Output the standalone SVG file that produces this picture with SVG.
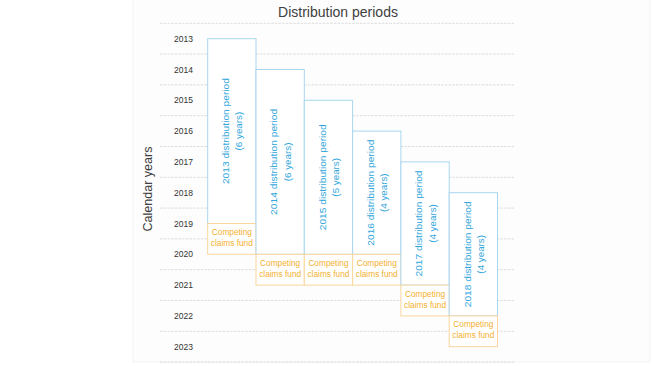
<svg xmlns="http://www.w3.org/2000/svg" width="652" height="366" viewBox="0 0 652 366">
<style>
.bg{fill:#fdfdfd;stroke:#f3f3f3;stroke-width:1}
.grid line{stroke:#d4d4d4;stroke-width:0.8;stroke-dasharray:2.5 1.2}
.title{font-family:"Liberation Sans",Arial,sans-serif;font-size:14px;fill:#404040;text-anchor:middle}
.axis{font-family:"Liberation Sans",Arial,sans-serif;font-size:13.5px;fill:#404040;text-anchor:middle}
.yr{font-family:"Liberation Sans",Arial,sans-serif;font-size:8.5px;fill:#333;text-anchor:middle}
.pb{fill:#fff;stroke:#a9d6ee;stroke-width:1}
.pt{font-family:"Liberation Sans",Arial,sans-serif;font-size:9.8px;fill:#33a7dc;text-anchor:middle}
.cb{fill:#fff;stroke:#fbd59c;stroke-width:1}
.ct{font-family:"Liberation Sans",Arial,sans-serif;font-size:8.3px;fill:#f4b030;text-anchor:middle}
</style>
<rect class="bg" x="133" y="-1" width="517" height="363"/>
<text class="title" x="338" y="17">Distribution periods</text>
<text class="axis" transform="translate(152,189) rotate(-90)" textLength="85" lengthAdjust="spacingAndGlyphs">Calendar years</text>
<g id="grid" class="grid">
<line x1="160" y1="23.3" x2="515" y2="23.3"/>
<line x1="160" y1="54.1" x2="515" y2="54.1"/>
<line x1="160" y1="84.9" x2="515" y2="84.9"/>
<line x1="160" y1="115.7" x2="515" y2="115.7"/>
<line x1="160" y1="146.5" x2="515" y2="146.5"/>
<line x1="160" y1="177.3" x2="515" y2="177.3"/>
<line x1="160" y1="208.1" x2="515" y2="208.1"/>
<line x1="160" y1="238.9" x2="515" y2="238.9"/>
<line x1="160" y1="269.7" x2="515" y2="269.7"/>
<line x1="160" y1="300.5" x2="515" y2="300.5"/>
<line x1="160" y1="331.3" x2="515" y2="331.3"/>
<line x1="160" y1="362.1" x2="515" y2="362.1"/>
</g>
<g id="years">
<text class="yr" x="183.5" y="41.7">2013</text>
<text class="yr" x="183.5" y="72.5">2014</text>
<text class="yr" x="183.5" y="103.3">2015</text>
<text class="yr" x="183.5" y="134.1">2016</text>
<text class="yr" x="183.5" y="164.9">2017</text>
<text class="yr" x="183.5" y="195.7">2018</text>
<text class="yr" x="183.5" y="226.5">2019</text>
<text class="yr" x="183.5" y="257.3">2020</text>
<text class="yr" x="183.5" y="288.1">2021</text>
<text class="yr" x="183.5" y="318.9">2022</text>
<text class="yr" x="183.5" y="349.7">2023</text>
</g>
<g id="p2013">
<rect class="pb" x="207.7" y="38.7" width="48.3" height="184.8"/>
<text class="pt" transform="translate(229,131.1) rotate(-90)" textLength="106" lengthAdjust="spacingAndGlyphs">2013 distribution period</text>
<text class="pt" transform="translate(242.3,131.1) rotate(-90)">(6 years)</text>
</g>
<g id="c2013">
<rect class="cb" x="207.7" y="223.5" width="48.3" height="30.8"/>
<text class="ct" x="231.85" y="235">Competing</text>
<text class="ct" x="231.85" y="246">claims fund</text>
</g>
<g id="p2014">
<rect class="pb" x="256" y="69.5" width="48.3" height="184.8"/>
<text class="pt" transform="translate(277.3,161.9) rotate(-90)" textLength="106" lengthAdjust="spacingAndGlyphs">2014 distribution period</text>
<text class="pt" transform="translate(290.6,161.9) rotate(-90)">(6 years)</text>
</g>
<g id="c2014">
<rect class="cb" x="256" y="254.3" width="48.3" height="30.8"/>
<text class="ct" x="280.15" y="265.8">Competing</text>
<text class="ct" x="280.15" y="276.8">claims fund</text>
</g>
<g id="p2015">
<rect class="pb" x="304.3" y="100.3" width="48.3" height="154"/>
<text class="pt" transform="translate(325.6,177.3) rotate(-90)" textLength="106" lengthAdjust="spacingAndGlyphs">2015 distribution period</text>
<text class="pt" transform="translate(338.9,177.3) rotate(-90)">(5 years)</text>
</g>
<g id="c2015">
<rect class="cb" x="304.3" y="254.3" width="48.3" height="30.8"/>
<text class="ct" x="328.45" y="265.8">Competing</text>
<text class="ct" x="328.45" y="276.8">claims fund</text>
</g>
<g id="p2016">
<rect class="pb" x="352.6" y="131.1" width="48.3" height="123.2"/>
<text class="pt" transform="translate(373.9,192.7) rotate(-90)" textLength="106" lengthAdjust="spacingAndGlyphs">2016 distribution period</text>
<text class="pt" transform="translate(387.2,192.7) rotate(-90)">(4 years)</text>
</g>
<g id="c2016">
<rect class="cb" x="352.6" y="254.3" width="48.3" height="30.8"/>
<text class="ct" x="376.75" y="265.8">Competing</text>
<text class="ct" x="376.75" y="276.8">claims fund</text>
</g>
<g id="p2017">
<rect class="pb" x="400.9" y="161.9" width="48.3" height="123.2"/>
<text class="pt" transform="translate(422.2,223.5) rotate(-90)" textLength="106" lengthAdjust="spacingAndGlyphs">2017 distribution period</text>
<text class="pt" transform="translate(435.5,223.5) rotate(-90)">(4 years)</text>
</g>
<g id="c2017">
<rect class="cb" x="400.9" y="285.1" width="48.3" height="30.8"/>
<text class="ct" x="425.05" y="296.6">Competing</text>
<text class="ct" x="425.05" y="307.6">claims fund</text>
</g>
<g id="p2018">
<rect class="pb" x="449.2" y="192.7" width="48.3" height="123.2"/>
<text class="pt" transform="translate(470.5,254.3) rotate(-90)" textLength="106" lengthAdjust="spacingAndGlyphs">2018 distribution period</text>
<text class="pt" transform="translate(483.8,254.3) rotate(-90)">(4 years)</text>
</g>
<g id="c2018">
<rect class="cb" x="449.2" y="315.9" width="48.3" height="30.8"/>
<text class="ct" x="473.35" y="327.4">Competing</text>
<text class="ct" x="473.35" y="338.4">claims fund</text>
</g>
</svg>
